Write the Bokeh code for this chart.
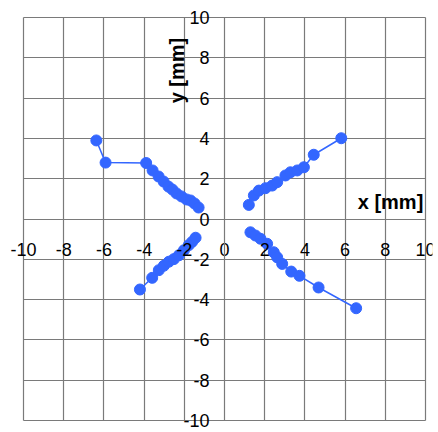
import math
from bokeh.plotting import figure
from bokeh.models import Label, FixedTicker
from bokeh.embed import file_html
from bokeh.resources import INLINE

# Upper-left branch
ul_x = [-6.38, -5.92, -3.90, -3.58, -3.28, -3.03, -2.79, -2.59, -2.39, -2.14, -1.89, -1.69, -1.49, -1.29]
ul_y = [3.90, 2.80, 2.78, 2.41, 2.11, 1.86, 1.61, 1.46, 1.27, 1.12, 0.97, 0.92, 0.77, 0.57]
# Upper-right branch
ur_x = [1.21, 1.46, 1.71, 2.04, 2.37, 2.62, 3.03, 3.28, 3.62, 3.95, 4.44, 5.81]
ur_y = [0.70, 1.17, 1.41, 1.53, 1.66, 1.83, 2.16, 2.32, 2.41, 2.57, 3.19, 4.01]
# Lower-left branch
ll_x = [-4.21, -3.60, -3.27, -3.02, -2.77, -2.52, -2.27, -2.02, -1.78, -1.61, -1.44]
ll_y = [-3.50, -2.92, -2.54, -2.32, -2.12, -1.99, -1.80, -1.55, -1.30, -1.13, -0.93]
# Lower-right branch
lr_x = [1.29, 1.54, 1.79, 2.12, 2.45, 2.62, 2.87, 3.32, 3.73, 4.68, 6.55]
lr_y = [-0.66, -0.82, -0.98, -1.23, -1.65, -1.90, -2.23, -2.61, -2.82, -3.40, -4.43]

ticks = [-10, -8, -6, -4, -2, 0, 2, 4, 6, 8, 10]
tick_labels = ["-10", "-8", "-6", "-4", "-2", "0", "2", "4", "6", "8", "10"]
x_title = "x [mm]"
y_title = "y [mm]"

BLUE = "#3366FF"
GRID = "#7a7a7a"
FONT = "Liberation Sans"

p = figure(frame_width=427, frame_height=424, x_range=(-10.9, 10.35), y_range=(-10.5, 10.55),
           output_backend="svg", toolbar_location=None,
           min_border_left=5, min_border_right=6, min_border_top=6, min_border_bottom=2,
           background_fill_color="white", border_fill_color="white")

p.outline_line_color = None

for ax in (p.xaxis, p.yaxis):
    ax.fixed_location = 0
    ax.bounds = (-10, 10)
    ax.ticker = FixedTicker(ticks=ticks)
    ax.major_label_overrides = {t: s for t, s in zip(ticks, tick_labels)}
    ax.major_label_text_font = FONT
    ax.major_label_text_font_size = "18px"
    ax.major_label_text_color = "black"
    ax.axis_line_color = GRID
    ax.axis_line_width = 1
    ax.major_tick_in = 0
    ax.major_tick_out = 0
    ax.minor_tick_in = 0
    ax.minor_tick_out = 0
p.xaxis.major_label_standoff = 24
p.yaxis.major_label_standoff = 15

for g in (p.xgrid, p.ygrid):
    g.ticker = FixedTicker(ticks=ticks)
    g.bounds = (-10, 10)
    g.cross_bounds = (-10, 10)
    g.grid_line_color = GRID
    g.grid_line_width = 1.2
    g.grid_line_alpha = 1

for xs, ys in ((ul_x, ul_y), (ur_x, ur_y), (ll_x, ll_y), (lr_x, lr_y)):
    p.line(xs, ys, line_color=BLUE, line_width=1.5)
    p.scatter(xs, ys, size=11, fill_color=BLUE, line_color=BLUE)

p.add_layout(Label(x=8.26, y=0.82, text=x_title, text_font=FONT, text_font_size="20px",
                   text_font_style="bold", text_align="center", text_baseline="middle",
                   text_color="black"))
p.add_layout(Label(x=-2.39, y=7.37, text=y_title, text_font=FONT, text_font_size="20px",
                   text_font_style="bold", text_align="center", text_baseline="middle",
                   angle=math.pi / 2, text_color="black"))

open("out.html", "w").write(file_html(p, INLINE))
